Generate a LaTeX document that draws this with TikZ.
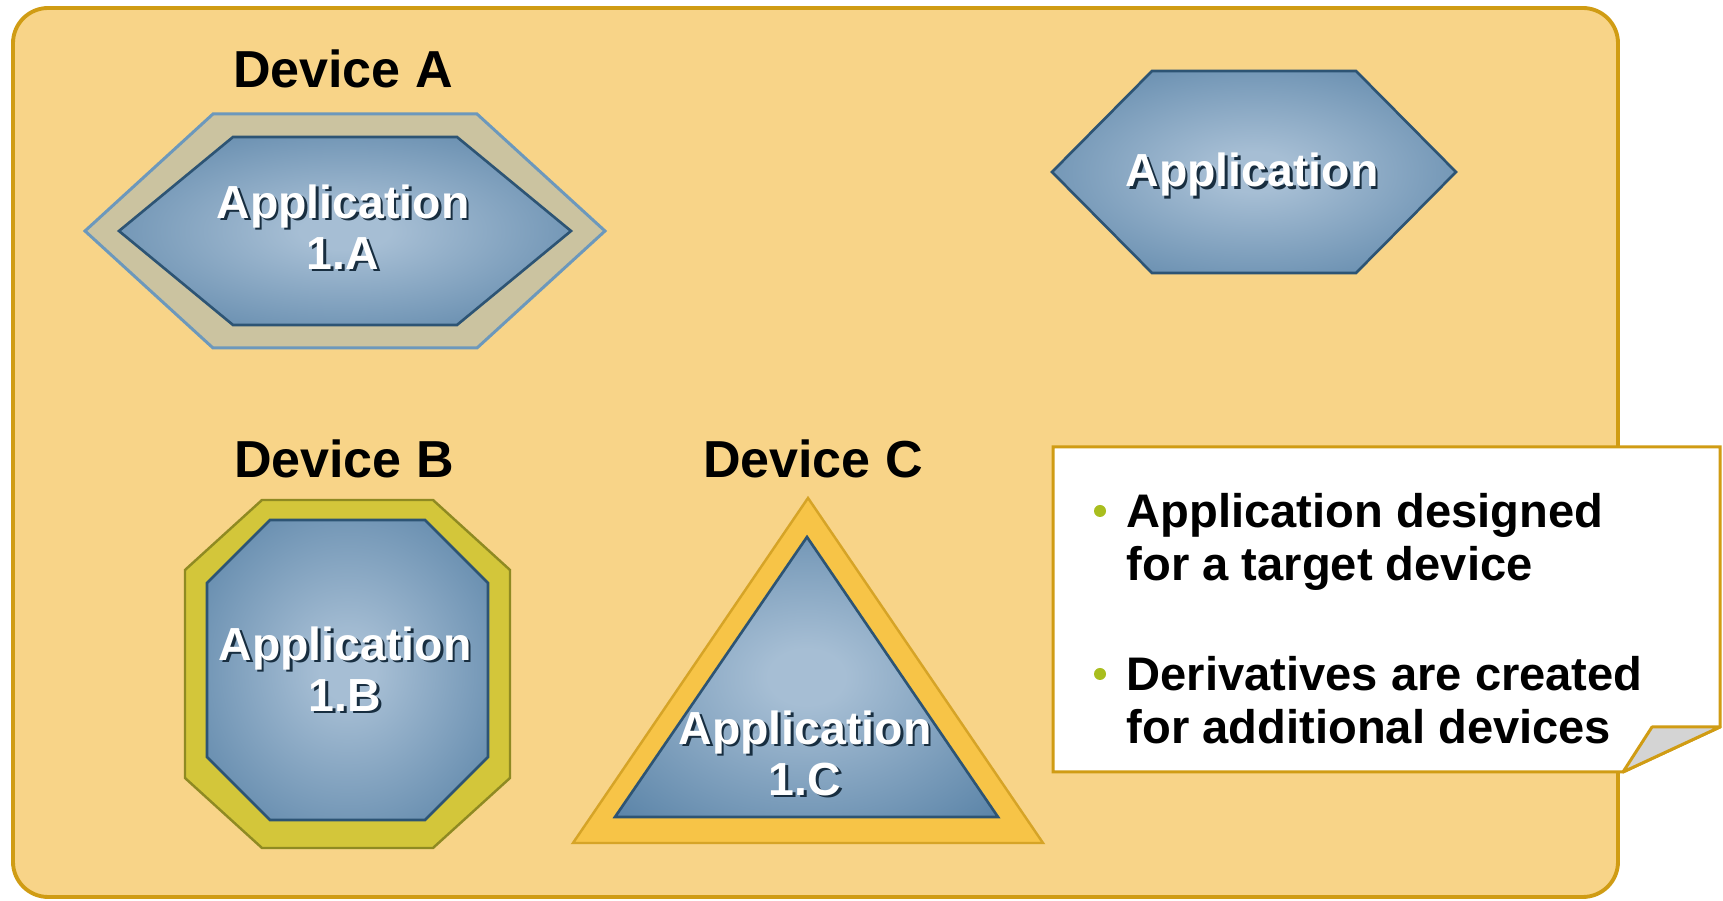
\documentclass[tikz,border=0pt]{standalone}
\usepackage{fontspec}
\setmainfont{Liberation Sans}
\usetikzlibrary{calc}
% colours
\definecolor{panelfill}{HTML}{F8D488}
\definecolor{panelline}{HTML}{D09C14}
\definecolor{applight}{HTML}{A6BED4}
\definecolor{appdark}{HTML}{4A779E}
\definecolor{appline}{HTML}{2D5474}
\definecolor{appshadow}{HTML}{182E40}
\definecolor{bandAfill}{HTML}{CBC3A0}
\definecolor{bandAline}{HTML}{6C98BC}
\definecolor{bandBfill}{HTML}{D3C63A}
\definecolor{bandBline}{HTML}{8F8A22}
\definecolor{bandCfill}{HTML}{F7C447}
\definecolor{bandCline}{HTML}{D6A427}
\definecolor{flapgrey}{HTML}{D4D4D4}
\definecolor{bulletgreen}{HTML}{A9BE1E}
\pgfdeclareradialshading{appglow}{\pgfpoint{0bp}{0bp}}{%
  color(0bp)=(applight); color(5bp)=(applight); color(42bp)=(appdark); color(50bp)=(appdark)}
\tikzset{
	panel/.style={fill=panelfill, draw=panelline, line width=1.1pt, rounded corners=10pt}, % fondo
	bandA/.style={fill=bandAfill, draw=bandAline, line width=0.85pt},
	bandB/.style={fill=bandBfill, draw=bandBline, line width=0.7pt},
	bandC/.style={fill=bandCfill, draw=bandCline, line width=0.7pt},
	appbody/.style={shading=appglow, draw=appline, line width=0.75pt}, % figura azul
	apptext/.style={font=\bfseries\fontsize{13.2pt}{14.5pt}\selectfont, text=white, align=center, inner sep=0pt},
	devicelabel/.style={font=\bfseries\fontsize{14.8pt}{16pt}\selectfont, anchor=base, inner sep=0pt},
	callout/.style={fill=white, draw=panelline, line width=0.85pt},
	flap/.style={fill=flapgrey, draw=panelline, line width=0.85pt, line join=round},
	callouttext/.style={font=\bfseries\fontsize{13.4pt}{15.1pt}\selectfont, align=left, anchor=north west, inner sep=0pt},
	bullet/.style={circle, fill=bulletgreen, inner sep=0pt, minimum size=0.12cm}
}
% hexagon: style, centre, half width, flat half width, half height
\newcommand{\hexshape}[5]{%
	\path[#1] ($(#2)+(-#3,0)$) -- ($(#2)+(-#4,-#5)$) -- ($(#2)+(#4,-#5)$)
		-- ($(#2)+(#3,0)$) -- ($(#2)+(#4,#5)$) -- ($(#2)+(-#4,#5)$) -- cycle;}
% white text with dark shadow: name, position, text
\newcommand{\apptext}[3]{%
	\node[apptext, text=appshadow] at ($(#2)+(2.5,2.5)$) {#3};
	\node[apptext] (#1) at (#2) {#3};}

\begin{document}
\begin{tikzpicture}[x=0.01cm, y=-0.01cm]
	\useasboundingbox (0,0) rectangle (1723,901);
	\fill[white] (0,0) rectangle (1723,901);
	\draw[panel] (13,8) rectangle (1618,897);

	% Device A
	\coordinate (hexA) at (345,231);
	\hexshape{bandA}{hexA}{260}{132}{117}
	\hexshape{appbody}{hexA}{226}{112}{94}
	\node[devicelabel] (devA) at (343,88) {Device A};
	\apptext{appA}{343,227}{Application\\1.A}

	% application
	\coordinate (hexApp) at (1254,172);
	\hexshape{appbody}{hexApp}{202}{102}{101}
	\apptext{app}{1252,175}{Application}

	% Device B
	\path[bandB] (262,500) -- (433,500) -- (510,570) -- (510,778) -- (433,848)
		-- (262,848) -- (185,778) -- (185,570) -- cycle;
	\path[appbody] (270,520) -- (425,520) -- (488,583) -- (488,757) -- (425,820)
		-- (270,820) -- (207,757) -- (207,583) -- cycle;
	\node[devicelabel] (devB) at (344,478) {Device B};
	\apptext{appB}{345,669}{Application\\1.B}

	% Device C
	\path[bandC] (808,498) -- (1043,843) -- (573,843) -- cycle;
	\path[appbody] (807,537) -- (998,817) -- (615,817) -- cycle;
	\node[devicelabel] (devC) at (813,478) {Device C};
	\apptext{appC}{805,753}{Application\\1.C}

	% nota
	\draw[callout] (1053,447) -- (1720,447) -- (1720,727) -- (1623,772) -- (1053,772) -- cycle;
	\draw[flap] (1652,727) -- (1720,727) -- (1623,772) -- cycle;
	\node[bullet] (b1) at (1100,511) {};
	\node[bullet] (b2) at (1100,674) {};
	\node[callouttext] (t1) at (1126,493) {Application designed\\for a target device};
	\node[callouttext] (t2) at (1126,656) {Derivatives are created\\for additional devices};
\end{tikzpicture}
\end{document}
